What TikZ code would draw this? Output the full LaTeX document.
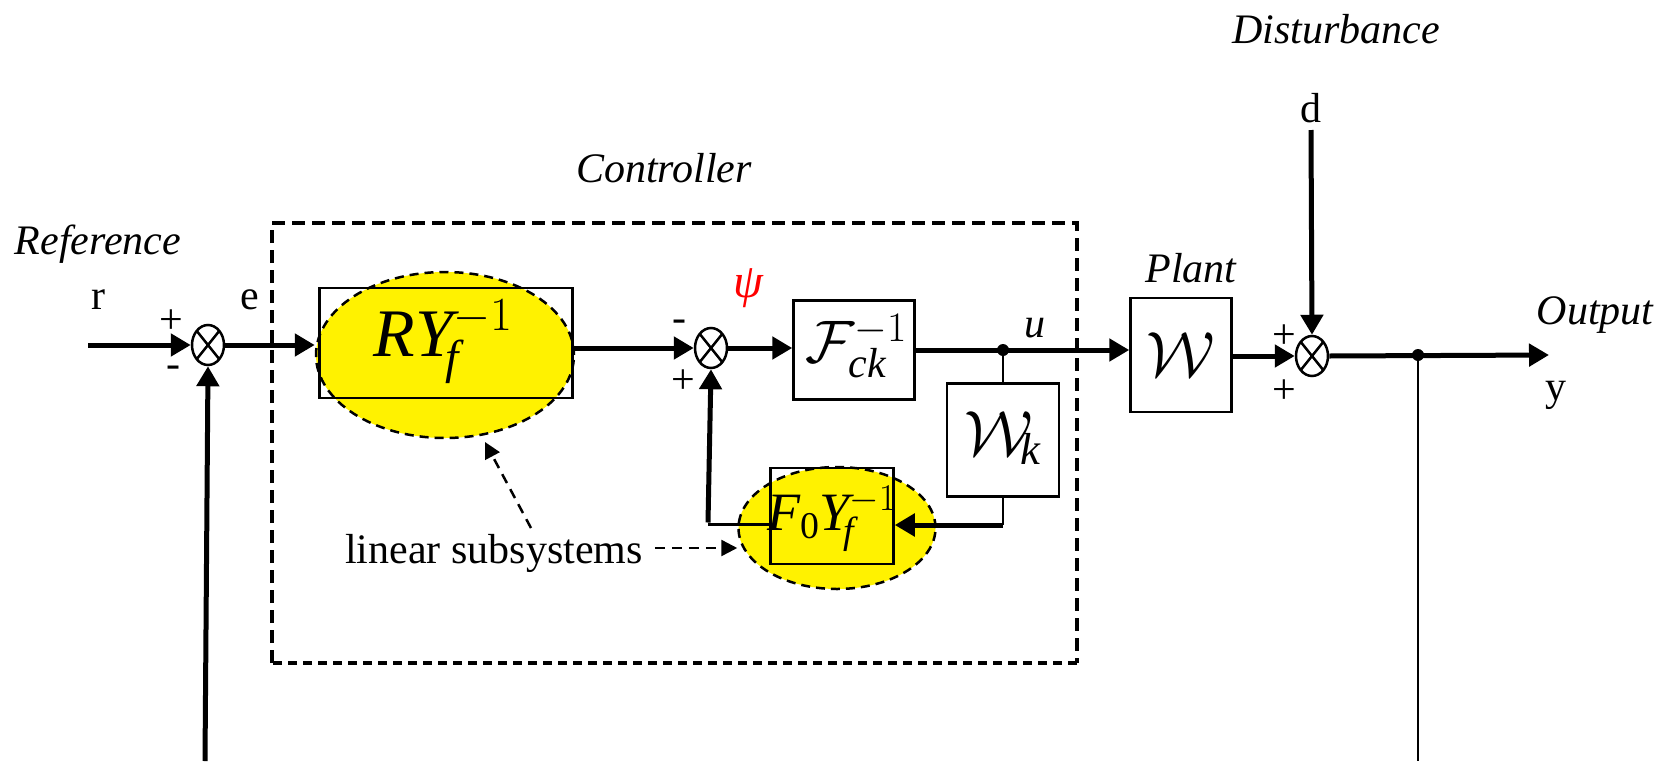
\RequirePackage{fix-cm}
\documentclass[tikz,border=0pt]{standalone}
\usepackage{fontspec}
\setmainfont{Liberation Serif}
\usetikzlibrary{shapes.geometric,arrows.meta}
\begin{document}
\begin{tikzpicture}[x=1pt,y=-1pt,
  lbl/.style={font=\fontsize{42}{48}\selectfont, inner sep=0},
  ilbl/.style={font=\fontsize{42}{48}\selectfont\itshape, inner sep=0},
  blk/.style={draw, line width=2.5pt, inner sep=0},
  mathtxt/.style={font=\fontsize{62}{70}\selectfont, inner sep=0},
  summer/.style={ellipse, draw, line width=2.5pt, minimum width=32pt, minimum height=40pt, inner sep=0,
    path picture={\draw[line width=2.5pt] (path picture bounding box.north west) -- (path picture bounding box.south east)
      (path picture bounding box.north east) -- (path picture bounding box.south west);}},
  sig/.style={line width=5pt, -{Triangle[length=20pt,width=22pt]}},
  wire/.style={line width=5pt},
  thinwire/.style={line width=2.5pt},
  yell/.style={ellipse, fill=yellow, draw, dash pattern=on 9pt off 6pt, line width=2.5pt, inner sep=0},
  dashedarrow/.style={line width=2.5pt, dash pattern=on 10pt off 7pt, -{Triangle[length=16pt,width=16pt]}},
  jdot/.style={circle, fill, inner sep=0, minimum size=12pt},
]
\useasboundingbox (0,0) rectangle (1666,761);

% controller frame
\coordinate (cb1) at (272,223);
\coordinate (cb2) at (1077,663);
\draw[line width=4pt, dash pattern=on 13pt off 7pt] (cb1 |- cb2) -- (cb1) -- (cb2 |- cb1) -- (cb2);
\draw[line width=4pt, dash pattern=on 9pt off 6pt] (cb2) -- (cb1 |- cb2);

% yellow ellipses and blocks
\node[yell, minimum width=258pt, minimum height=166pt] (RYell) at (445,355) {};
\node[blk, minimum width=253pt, minimum height=110pt] (RY) at (446,343) {};
\node[mathtxt, font=\fontsize{68}{76}\selectfont] (RYt) at (443,342) {$\mathit{RY}_{\!\mathit{f}}^{-1}$};

\node[yell, minimum width=197pt, minimum height=122pt] (F0ell) at (837,528) {};
\node[blk, minimum width=123pt, minimum height=96pt] (F0) at (832,516) {};
\node[mathtxt, font=\fontsize{54}{60}\selectfont] (F0t) at (832,519) {$\mathit{F}_{\mathrm{0}}\mathit{Y}_{\!\mathit{f}}^{-1}$};

\node[blk, minimum width=121pt, minimum height=99pt] (Fck) at (854,350) {};
\node[mathtxt, font=\fontsize{60}{66}\selectfont] (Fckt) at (856,346) {$\mathcal{F}_{\mathit{ck}}^{-1}$};

\node[blk, minimum width=112pt, minimum height=113pt] (Wk) at (1003,440) {};
\node[mathtxt, font=\fontsize{64}{72}\selectfont] (Wkt) at (1003,438) {$\mathcal{W}_{\!\mathit{k}}$};

\node[blk, minimum width=101pt, minimum height=114pt] (P) at (1181,355) {};
\node[mathtxt, font=\fontsize{64}{72}\selectfont] (Pt) at (1181,355) {$\mathcal{W}$};

% summing junctions
\node[summer] (s1) at (208,345) {};
\node[summer] (s2) at (711,348) {};
\node[summer] (s3) at (1312,356) {};

% coordinates
\coordinate (rin) at (88,345);
\coordinate (fb1) at (205,761);
\coordinate (udot) at (1003,350);
\coordinate (wcorner) at (1003,525);
\coordinate (fcorner) at (708,524);
\coordinate (dstart) at (1311,130);
\coordinate (ydot) at (1418,355);
\coordinate (yout) at (1549,355);
\coordinate (fb2) at (1418,761);

% signal lines
\draw[sig] (rin) -- (s1.west);
\draw[sig] (fb1) -- (s1.south);
\draw[sig] (s1.east) -- (s1.east -| RYell.west);
\draw[sig] (RY.east |- s2) -- (s2.west);
\draw[sig] (s2.east) -- (s2.east -| Fck.west);
\draw[wire] (Fck.east |- udot) -- (udot);
\draw[sig] (udot) -- (udot -| P.west);
\node[jdot] (ud) at (udot) {};
\draw[thinwire] (ud) -- (Wk.north);
\draw[thinwire] (Wk.south) -- (wcorner);
\draw[sig] (wcorner) -- (wcorner -| F0.east);
\draw[line width=3pt] (F0.west |- fcorner) -- (fcorner);
\draw[sig] ([yshift=1.5pt]fcorner) -- (s2.south);
\draw[sig] (P.east |- s3) -- (s3.west);
\draw[sig] (dstart) -- (s3.north);
\draw[sig] (s3.east) -- (yout);
\node[jdot] (yd) at (ydot) {};
\draw[thinwire] (yd) -- (fb2);

% dashed pointers
\node[lbl] (ls) at (494,553) {linear subsystems};
\draw[dashedarrow] (ls.east) ++(12pt,5pt) coordinate (la) -- (la -| F0ell.west);
\coordinate (lb) at (531,528);
\draw[dashedarrow] (lb) -- (485,442);

% labels
\node[ilbl] (ref) at (98,244) {Reference};
\node[lbl] (rl) at (98,300) {r};
\node[lbl] (p1) at (171,322) {+};
\node[lbl] (m1) at (173,372) {-};
\node[lbl] (el) at (250,300) {e};
\node[ilbl] (ctl) at (664,168) {Controller};
\node[ilbl, text=red, font=\fontsize{48}{54}\selectfont\itshape] (psi) at (748,288) {ψ};
\node[lbl] (m2) at (679,326) {-};
\node[lbl] (p2) at (683,382) {+};
\node[ilbl] (ul) at (1035,328) {u};
\node[ilbl] (pl) at (1191,268) {Plant};
\node[ilbl] (dist) at (1336,29) {Disturbance};
\node[lbl] (dl) at (1311,108) {d};
\node[lbl] (p3) at (1284,337) {+};
\node[lbl] (p4) at (1284,392) {+};
\node[ilbl] (out) at (1595,315) {Output};
\node[lbl] (yl) at (1556,395) {y};
\end{tikzpicture}
\end{document}
